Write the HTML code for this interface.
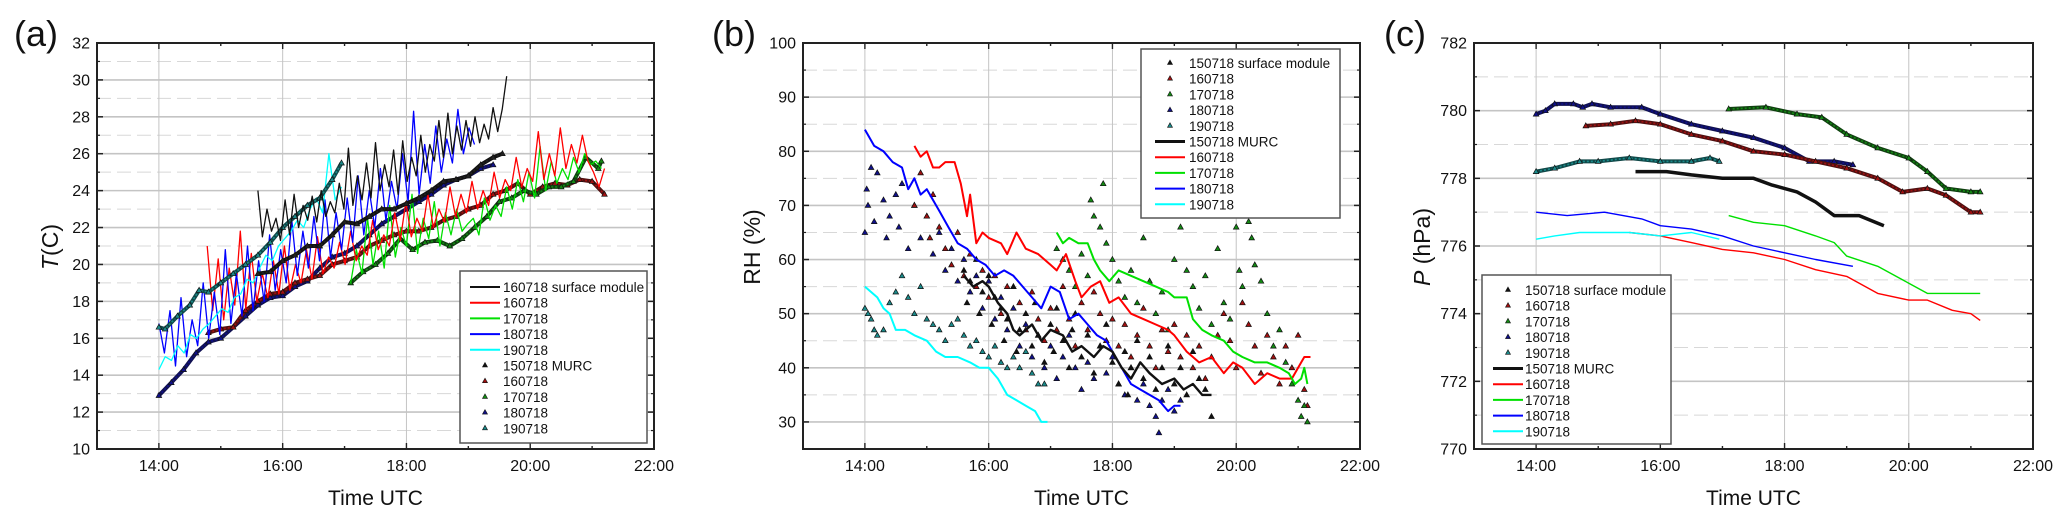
<!DOCTYPE html>
<html><head><meta charset="utf-8"><style>
html,body{margin:0;padding:0;background:#fff;}
svg{display:block;font-family:"Liberation Sans",Arial,sans-serif;}
</style></head><body>
<svg id="fig" width="2067" height="525" viewBox="0 0 2067 525" xmlns="http://www.w3.org/2000/svg"></svg>
<script>
// ---------- Panel (a) temperature data ----------
const aSurfBlackVals=[24,21.5,23,21.8,22.5,21.3,23.5,21.6,23.8,22,23.2,22.4,23.7,22.3,24,22.6,23.4,22.8,24.4,23,26.3,23.2,24.8,23.5,25.5,23.6,26.6,24,25.4,24.2,26.2,23.8,26.7,24.5,25.8,24.8,27,25,26.5,25.6,27.8,25.8,28.2,26,27.5,26.2,27.8,26.4,28,26.6,27.6,26.8,28.5,27.2,28.4,30.2];
const aRedVals=[21,17.5,20.3,17,19.8,17.8,21.8,17.6,20.6,18,19.5,18.2,20.2,18.4,21,18.6,20,19,20.8,19.2,21.5,19.5,20.4,19.8,21.2,20,21.8,20.2,21,20.5,22.4,20.8,21.6,21,22.8,21.3,23.4,21.5,22.5,21.8,23.8,22,23,22.3,24.2,22.6,23.8,22.8,24.5,23,24,23.2,25,23.6,24.6,24,25.8,24.2,25.2,24.5,27.2,24.6,26,24.8,27.4,25.2,26.5,25.5,27,25.6,25,24.2,25.2];
const aGreenVals=[19,20.8,19.5,22.5,20,21.8,19.8,23.2,20.4,22,21,23.8,20.6,22.5,21.4,23.4,21,22.8,21.6,23,21.8,22.2,22.5,21.6,23.6,22.4,23.2,22.6,24.2,23,24.6,23.4,25,23.6,26.4,24,25.6,24.4,25.2,24.6,25.8,25,26,25.4,25.6,25.2];
const aBlueVals=[16.8,15.2,17.5,14.5,18.2,15,17,15.6,19,16,18.5,16.2,20.8,16.8,19.5,17.2,21,17.5,20.2,18,21.6,18.6,20.8,19,22.4,19.4,21.8,19.8,22.6,20.2,23.5,20.4,22.8,20.8,23.6,21.2,24.8,21.6,24,22,25.2,22.4,24.5,23,26,23.4,28.3,23.8,26.5,24.4,27.5,25,26.8,25.5,28.4,26,27.4,26.5];
const aCyanVals=[14.3,15,14.8,15.6,15.2,16.2,16,16.5,16.8,17.2,17.6,17.4,18.2,18.4,19.2,19,19.8,20.5,20.2,21,21.4,21.8,22.4,22,23,23.6,22.8,26,23.5,24.2];
const aMurcBlack=[[15.6,19.5],[15.8,19.6],[16,20.2],[16.2,20.5],[16.4,21],[16.6,21],[16.8,21.6],[17,22.3],[17.2,22.2],[17.4,22.6],[17.6,23],[17.8,23],[18,23.3],[18.2,23.6],[18.4,24],[18.6,24.5],[18.8,24.6],[19,24.8],[19.2,25.4],[19.4,25.8],[19.55,26]];
const aMkRed=[[14.8,16.3],[15,16.5],[15.2,16.6],[15.4,17.5],[15.6,18],[15.8,18.4],[16,18.5],[16.2,19],[16.4,19.2],[16.6,19.4],[16.8,20],[17,20.2],[17.2,20.4],[17.4,21],[17.6,21.3],[17.8,21.6],[18,21.8],[18.2,21.8],[18.4,22],[18.6,22.4],[18.8,22.6],[19,23],[19.2,23.2],[19.4,23.8],[19.6,24],[19.8,24.4],[20,23.8],[20.2,24.2],[20.4,24.4],[20.6,24.3],[20.8,24.6],[21,24.5],[21.2,23.8]];
const aMkGreen=[[17.1,19],[17.3,19.6],[17.5,20],[17.7,20.6],[17.9,21.4],[18.1,20.8],[18.3,21.2],[18.5,21.3],[18.7,21],[18.9,21.4],[19.1,22],[19.3,22.6],[19.5,23.4],[19.7,23.6],[19.9,24],[20.1,23.8],[20.3,24.2],[20.5,24.2],[20.7,24.5],[20.9,25.8],[21.1,25.2],[21.15,25.6]];
const aMkNavy=[[14,12.9],[14.2,13.6],[14.4,14.3],[14.6,15.2],[14.8,15.8],[15,16],[15.2,16.6],[15.4,17.2],[15.6,17.8],[15.8,18.2],[16,18.3],[16.2,18.8],[16.4,19.1],[16.6,19.8],[16.8,20.4],[17,20.6],[17.2,21],[17.4,21.6],[17.6,22.2],[17.8,22.6],[18,23],[18.2,23.4],[18.4,23.8],[18.6,24.3],[18.8,24.6],[19,24.8],[19.2,25.2],[19.4,25.4]];
const aMkTeal=[[14,16.6],[14.1,16.5],[14.3,17.2],[14.5,17.8],[14.65,18.6],[14.8,18.5],[15,19],[15.2,19.5],[15.4,20],[15.6,20.5],[15.8,21.2],[16,22],[16.2,22.6],[16.4,23.2],[16.6,23.6],[16.8,24.6],[16.95,25.5]];

// ---------- Panel (b) RH data ----------
const bMurcBlack=[[15.6,57],[15.75,55],[15.9,56],[16,55],[16.15,52],[16.3,50],[16.4,47],[16.5,46],[16.7,48],[16.85,45],[17,47],[17.2,46],[17.35,43],[17.5,44],[17.7,42],[17.85,44],[18,43],[18.15,40],[18.3,38],[18.45,41],[18.6,39],[18.8,37],[19,38],[19.15,36],[19.3,37],[19.45,35],[19.6,35]];
const bRed=[[14.8,81],[14.9,79],[15,80],[15.1,77],[15.2,77],[15.3,78],[15.45,78],[15.55,74],[15.65,68],[15.7,72],[15.8,63],[15.9,65],[16,64],[16.2,63],[16.3,61],[16.45,65],[16.6,62],[16.8,61],[17,59],[17.1,58],[17.25,61],[17.4,56],[17.5,53],[17.65,55],[17.8,56],[17.95,52],[18.1,53],[18.3,50],[18.5,49],[18.7,48],[18.9,47],[19,46],[19.2,43],[19.4,41],[19.6,42],[19.8,39],[19.95,41],[20.1,40],[20.3,37],[20.5,39],[20.7,38],[20.9,38],[21,40],[21.1,42],[21.2,42]];
const bGreen=[[17.1,65],[17.2,63],[17.3,64],[17.45,63],[17.6,63],[17.7,60],[17.8,58],[17.95,56],[18.1,58],[18.3,57],[18.5,56],[18.7,55],[18.9,54],[19,53],[19.2,53],[19.3,49],[19.45,47],[19.6,46],[19.8,45],[19.95,43],[20.1,42],[20.3,41],[20.5,41],[20.7,40],[20.85,39],[20.95,37],[21.05,38],[21.1,40],[21.15,37]];
const bBlue=[[14,84],[14.05,83],[14.15,81],[14.3,80],[14.45,78],[14.6,77],[14.7,73],[14.8,75],[14.9,72],[15,73],[15.1,71],[15.2,69],[15.35,66],[15.5,63],[15.65,62],[15.8,60],[15.95,59],[16.1,57],[16.25,58],[16.4,57],[16.55,55],[16.7,53],[16.85,51],[17,55],[17.15,54],[17.3,49],[17.45,50],[17.6,48],[17.75,46],[17.9,45],[18,43],[18.15,40],[18.3,37],[18.45,36],[18.6,35],[18.75,34],[18.9,32],[19,33],[19.1,33]];
const bCyan=[[14,55],[14.1,54],[14.2,53],[14.3,51],[14.4,50],[14.5,47],[14.65,47],[14.8,46],[15,45],[15.15,43],[15.3,42],[15.5,42],[15.7,41],[15.85,40],[16,40],[16.15,38],[16.3,35],[16.45,34],[16.6,33],[16.75,32],[16.85,30],[16.95,30]];
const bMkBlack=[[15.6,58],[15.65,52],[15.7,56],[15.8,60],[15.85,50],[15.9,54],[16,57],[16.05,48],[16.1,53],[16.2,51],[16.25,45],[16.3,49],[16.4,55],[16.45,43],[16.5,47],[16.6,50],[16.7,44],[16.75,52],[16.8,46],[16.9,41],[17,48],[17.05,43],[17.1,51],[17.2,45],[17.3,40],[17.35,47],[17.4,50],[17.5,42],[17.6,46],[17.7,39],[17.8,44],[17.9,48],[18,41],[18.1,37],[18.2,43],[18.25,35],[18.3,40],[18.4,45],[18.5,38],[18.6,42],[18.7,36],[18.8,40],[18.9,44],[19,37],[19.1,40],[19.2,35],[19.3,43],[19.4,38],[19.5,36],[19.6,31]];
const bMkRed=[[14.8,70],[14.9,76],[15,68],[15.05,64],[15.1,72],[15.2,66],[15.3,62],[15.4,59],[15.5,65],[15.6,57],[15.7,61],[15.8,55],[15.9,58],[16,53],[16.1,57],[16.2,50],[16.3,55],[16.5,52],[16.6,47],[16.7,54],[16.8,49],[16.9,45],[17,51],[17.1,47],[17.2,55],[17.3,49],[17.4,44],[17.5,52],[17.6,47],[17.7,54],[17.8,50],[17.9,45],[18,49],[18.1,44],[18.2,48],[18.3,42],[18.4,46],[18.5,51],[18.6,44],[18.7,40],[18.8,47],[18.9,43],[19,48],[19.1,42],[19.2,46],[19.3,40],[19.4,44],[19.5,38],[19.6,42],[19.7,46],[19.8,50],[19.9,45],[20,40],[20.1,52],[20.2,48],[20.3,44],[20.4,39],[20.5,46],[20.6,42],[20.7,37],[20.8,44],[20.9,40],[21,46],[21.1,36],[21.15,33]];
const bMkGreen=[[17.1,62],[17.2,60],[17.3,58],[17.4,55],[17.5,61],[17.6,57],[17.65,71],[17.7,68],[17.8,66],[17.85,74],[17.9,63],[18,60],[18.1,56],[18.2,53],[18.3,58],[18.4,52],[18.5,64],[18.6,56],[18.7,50],[18.8,54],[18.9,47],[19,60],[19.1,66],[19.2,58],[19.3,55],[19.4,51],[19.5,57],[19.6,48],[19.7,62],[19.8,52],[19.9,49],[20,66],[20.05,58],[20.1,55],[20.2,67],[20.25,64],[20.3,59],[20.4,56],[20.5,50],[20.6,44],[20.7,47],[20.8,41],[20.9,37],[21,34],[21.05,31],[21.1,33],[21.15,30]];
const bMkNavy=[[14,65],[14.03,73],[14.05,70],[14.1,77],[14.15,67],[14.2,76],[14.3,71],[14.35,64],[14.4,68],[14.5,72],[14.55,66],[14.6,74],[14.7,62],[14.8,70],[14.9,64],[15,68],[15.1,61],[15.2,65],[15.3,58],[15.4,62],[15.5,56],[15.6,60],[15.7,54],[15.8,57],[15.9,51],[16,56],[16.1,49],[16.2,53],[16.3,47],[16.4,51],[16.5,44],[16.6,48],[16.7,42],[16.8,46],[16.9,40],[17,44],[17.1,38],[17.2,42],[17.3,46],[17.4,40],[17.5,36],[17.6,41],[17.7,38],[17.8,44],[17.9,39],[18,42],[18.1,37],[18.2,35],[18.3,40],[18.4,34],[18.5,37],[18.6,33],[18.7,31],[18.75,28],[18.8,34],[18.9,36],[19,32],[19.1,34]];
const bMkTeal=[[14,51],[14.05,50],[14.1,49],[14.15,47],[14.2,46],[14.3,47],[14.4,52],[14.5,54],[14.6,57],[14.7,53],[14.8,50],[14.9,55],[15,49],[15.1,48],[15.2,47],[15.3,45],[15.4,48],[15.5,49],[15.6,46],[15.7,44],[15.8,45],[15.9,43],[16,42],[16.1,44],[16.2,41],[16.3,40],[16.4,42],[16.5,40],[16.6,43],[16.7,39],[16.8,37],[16.9,37]];

// ---------- Panel (c) pressure data ----------
const cMkNavy=[[14,779.9],[14.15,780],[14.3,780.2],[14.6,780.2],[14.75,780.1],[14.9,780.2],[15.2,780.1],[15.7,780.1],[16,779.9],[16.5,779.6],[17,779.4],[17.5,779.2],[18,778.9],[18.4,778.5],[18.8,778.5],[19.1,778.4]];
const cMkRed=[[14.8,779.55],[15.2,779.6],[15.6,779.7],[16,779.6],[16.5,779.3],[17,779.1],[17.5,778.8],[18,778.7],[18.5,778.5],[19,778.3],[19.5,778],[19.9,777.6],[20.3,777.7],[20.6,777.5],[21,777],[21.15,777]];
const cMkGreen=[[17.1,780.05],[17.7,780.1],[18.2,779.9],[18.6,779.8],[19,779.3],[19.5,778.9],[20,778.6],[20.3,778.2],[20.6,777.7],[21,777.6],[21.15,777.6]];
const cMkTeal=[[14,778.2],[14.3,778.3],[14.7,778.5],[15,778.5],[15.5,778.6],[16,778.5],[16.5,778.5],[16.8,778.6],[16.95,778.5]];
const cMurcBlack=[[15.6,778.2],[16.1,778.2],[16.5,778.1],[17,778],[17.5,778],[17.8,777.8],[18.2,777.6],[18.5,777.3],[18.8,776.9],[19.2,776.9],[19.6,776.6]];
const cRed=[[15.5,776.4],[16,776.3],[16.5,776.1],[17,775.9],[17.5,775.8],[18,775.6],[18.5,775.3],[19,775.1],[19.5,774.6],[20,774.4],[20.3,774.4],[20.7,774.1],[21,774],[21.15,773.8]];
const cGreen=[[17.1,776.9],[17.5,776.7],[18,776.6],[18.5,776.3],[18.8,776.1],[19,775.7],[19.5,775.4],[20,774.9],[20.3,774.6],[20.6,774.6],[21.15,774.6]];
const cBlue=[[14,777],[14.5,776.9],[15.1,777],[15.7,776.8],[16,776.6],[16.5,776.5],[17,776.3],[17.5,776],[18,775.8],[18.5,775.6],[19.1,775.4]];
const cCyan=[[14,776.2],[14.3,776.3],[14.7,776.4],[15.5,776.4],[16,776.3],[16.5,776.4],[16.95,776.2]];

const xTickLabels=["14:00","16:00","18:00","20:00","22:00"];
const xTickHours=[14,16,18,20,22];

const NS="http://www.w3.org/2000/svg";
const svg=document.getElementById('fig');
function el(tag,attrs,parent){const e=document.createElementNS(NS,tag);for(const k in attrs)e.setAttribute(k,attrs[k]);(parent||svg).appendChild(e);return e;}
function evenSeries(t0,t1,vals){const n=vals.length;return vals.map((v,i)=>[t0+(t1-t0)*i/(n-1),v]);}
const chainColor={'#10108a':'#101050','#a01010':'#501010','#138a13':'#104010','#1a8a8a':'#104848','#222':'#111'};

function makePanel(p){
  const g=el('g',{});
  
  
  const X=t=>p.x0+(t-13)/(22-13)*(p.x1-p.x0);
  const Y=v=>p.y1-(v-p.ymin)/(p.ymax-p.ymin)*(p.y1-p.y0);
  for(const v of p.minor){const ln=el('line',{x1:p.x0,x2:p.x1,y1:Y(v),y2:Y(v),stroke:'#d8d8d8','stroke-width':1,'stroke-dasharray':'14,6'},g);}
  for(const v of p.major){const ln=el('line',{x1:p.x0,x2:p.x1,y1:Y(v),y2:Y(v),stroke:'#c4c4c4','stroke-width':1.6},g);}
  for(const h of [14,16,18,20]){const ln=el('line',{x1:X(h),x2:X(h),y1:p.y0,y2:p.y1,stroke:'#c4c4c4','stroke-width':1},g);}
  for(const v of p.major){el('line',{x1:p.x0,x2:p.x0+6,y1:Y(v),y2:Y(v),stroke:'#222','stroke-width':1.5},g);el('line',{x1:p.x1-6,x2:p.x1,y1:Y(v),y2:Y(v),stroke:'#222','stroke-width':1.5},g);}
  for(const v of p.minor){el('line',{x1:p.x0,x2:p.x0+3,y1:Y(v),y2:Y(v),stroke:'#222','stroke-width':1.2},g);el('line',{x1:p.x1-3,x2:p.x1,y1:Y(v),y2:Y(v),stroke:'#222','stroke-width':1.2},g);}
  for(let h=14;h<=21;h++){const L=h%2===0?6:3;el('line',{x1:X(h),x2:X(h),y1:p.y1,y2:p.y1-L,stroke:'#222','stroke-width':1.4},g);el('line',{x1:X(h),x2:X(h),y1:p.y0,y2:p.y0+L,stroke:'#222','stroke-width':1.4},g);}
  const drawLine=(pts,color,w,name)=>{const pl=el('polyline',{points:pts.map(q=>X(q[0]).toFixed(1)+','+Y(q[1]).toFixed(1)).join(' '),fill:'none',stroke:color,'stroke-width':w,'stroke-linejoin':'round'},g);};
  const drawMarkers=(pts,fill,chain,name)=>{
    const mg=el('g',{},g);
    if(chain){const pl=el('polyline',{points:pts.map(q=>X(q[0]).toFixed(1)+','+Y(q[1]).toFixed(1)).join(' '),fill:'none',stroke:chainColor[fill]||'#222','stroke-width':4,'stroke-linejoin':'round'},mg);
      const pl2=el('polyline',{points:pts.map(q=>X(q[0]).toFixed(1)+','+Y(q[1]).toFixed(1)).join(' '),fill:'none',stroke:fill,'stroke-width':1.6,'stroke-dasharray':'2,2'},mg);}
    for(const q of pts){const x=X(q[0]),y=Y(q[1]);const t=el('path',{d:`M${x.toFixed(1)},${(y-3).toFixed(1)}L${(x+2.8).toFixed(1)},${(y+2).toFixed(1)}L${(x-2.8).toFixed(1)},${(y+2).toFixed(1)}Z`,fill:fill,stroke:'#111','stroke-width':0.7},mg);}
  };
  p.draw(drawLine,drawMarkers);
  const fr=el('rect',{x:p.x0,y:p.y0,width:p.x1-p.x0,height:p.y1-p.y0,fill:'none',stroke:'#222','stroke-width':2},g);
  p.major.forEach(v=>{const t=el('text',{x:p.x0-7,y:Y(v)+5.5,'text-anchor':'end','font-size':16,fill:'#111'},g);t.textContent=String(v);});
  xTickHours.forEach((h,i)=>{const t=el('text',{x:X(h),y:p.y1+22,'text-anchor':'middle','font-size':16,fill:'#111'},g);t.textContent=xTickLabels[i];});
  const xt=el('text',{x:(p.x0+p.x1)/2,y:505,'text-anchor':'middle','font-size':21,fill:'#111'},g);xt.textContent='Time UTC';
  const yt=el('text',{x:p.ytx,y:247,'text-anchor':'middle','font-size':23,fill:'#111',transform:`rotate(-90 ${p.ytx} 247)`},g);yt.innerHTML=p.ytitle;
  const pl=el('text',{x:p.plx,y:46,'font-size':36,fill:'#111'},g);pl.textContent=p.plabel;
  const L=p.legend;const lg=el('g',{},g);
  el('rect',{x:L.x,y:L.y,width:L.w,height:L.h,fill:'#fff',stroke:'#555','stroke-width':1.5},lg);
  L.items.forEach((it,i)=>{const y=L.ry+i*15.7;const eg=el('g',{},lg);
    if(it.type==='line'){el('line',{x1:L.lx,x2:L.lx+30,y1:y,y2:y,stroke:it.c,'stroke-width':it.w||2},eg);}
    else{el('path',{d:`M${L.lx+15},${y-3}L${L.lx+17.5},${y+1.5}L${L.lx+12.5},${y+1.5}Z`,fill:it.c,stroke:'#111','stroke-width':0.6},eg);}
    const t=el('text',{x:L.tx,y:y+5,'font-size':13.5,fill:'#111'},eg);t.textContent=it.t;});
}

const mkItems=first=>[{type:'m',c:'#111',t:first},{type:'m',c:'#a01010',t:'160718'},{type:'m',c:'#138a13',t:'170718'},{type:'m',c:'#10108a',t:'180718'},{type:'m',c:'#1a8a8a',t:'190718'}];
const lnItems=(first,w)=>[{type:'line',c:'#111',t:first,w:w},{type:'line',c:'#ff0000',t:'160718'},{type:'line',c:'#00e000',t:'170718'},{type:'line',c:'#0000ff',t:'180718'},{type:'line',c:'#00ffff',t:'190718'}];

makePanel({name:'panel-a-temperature',x0:97,x1:654,y0:43,y1:449,ymin:10,ymax:32,
  major:[10,12,14,16,18,20,22,24,26,28,30,32],minor:[11,13,15,17,19,21,23,25,27,29,31],
  ytx:58,ytitle:'<tspan font-style="italic">T</tspan>(C)',plx:14,plabel:'(a)',
  legend:{x:460,y:271,w:187,h:172,ry:287,lx:470,tx:503,items:lnItems('160718 surface module',2).concat(mkItems('150718 MURC'))},
  draw:(line,mk)=>{
    mk(aMkNavy,'#10108a',true,'series-180718-markers');
    mk(aMkRed,'#a01010',true,'series-160718-markers');
    mk(aMkGreen,'#138a13',true,'series-170718-markers');
    line(evenSeries(17.1,21.15,aGreenVals),'#00e000',1.3,'series-170718-line');
    line(evenSeries(14.78,21.2,aRedVals),'#ff0000',1.3,'series-160718-line');
    line(evenSeries(14,19.1,aBlueVals),'#0000ff',1.3,'series-180718-line');
    line(evenSeries(14,16.95,aCyanVals),'#00ffff',1.3,'series-190718-line');
    mk(aMkTeal,'#1a8a8a',true,'series-190718-markers');
    mk(aMurcBlack,'#222',true,'series-150718-murc-markers');
    line(evenSeries(15.6,19.62,aSurfBlackVals),'#111',1.3,'series-surface-module-line');
  }});

makePanel({name:'panel-b-humidity',x0:803,x1:1360,y0:43,y1:449,ymin:25,ymax:100,
  major:[30,40,50,60,70,80,90,100],minor:[35,45,55,65,75,85,95],
  ytx:760,ytitle:'RH (%)',plx:712,plabel:'(b)',
  legend:{x:1141,y:49,w:199,h:169,ry:63,lx:1155,tx:1189,items:mkItems('150718 surface module').concat(lnItems('150718 MURC',3))},
  draw:(line,mk)=>{
    mk(bMkTeal,'#1a8a8a',false,'series-190718-markers');
    mk(bMkNavy,'#10108a',false,'series-180718-markers');
    mk(bMkRed,'#a01010',false,'series-160718-markers');
    mk(bMkBlack,'#111',false,'series-surface-module-markers');
    mk(bMkGreen,'#138a13',false,'series-170718-markers');
    line(bCyan,'#00ffff',2,'series-190718-line');
    line(bBlue,'#0000ff',2,'series-180718-line');
    line(bRed,'#ff0000',2,'series-160718-line');
    line(bGreen,'#00e000',2,'series-170718-line');
    line(bMurcBlack,'#111',2.4,'series-150718-murc-line');
  }});

makePanel({name:'panel-c-pressure',x0:1474,x1:2033,y0:43,y1:449,ymin:770,ymax:782,
  major:[770,772,774,776,778,780,782],minor:[771,773,775,777,779,781],
  ytx:1430,ytitle:'<tspan font-style="italic">P</tspan> (hPa)',plx:1384,plabel:'(c)',
  legend:{x:1482,y:275,w:189,h:169,ry:290,lx:1493,tx:1525,items:mkItems('150718 surface module').concat(lnItems('150718 MURC',3))},
  draw:(line,mk)=>{
    mk(cMkNavy,'#10108a',true,'series-180718-markers');
    mk(cMkRed,'#a01010',true,'series-160718-markers');
    mk(cMkGreen,'#138a13',true,'series-170718-markers');
    mk(cMkTeal,'#1a8a8a',true,'series-190718-markers');
    line(cMurcBlack,'#111',3.5,'series-150718-murc-line');
    line(cRed,'#ff0000',1.4,'series-160718-line');
    line(cGreen,'#00e000',1.4,'series-170718-line');
    line(cBlue,'#0000ff',1.4,'series-180718-line');
    line(cCyan,'#00ffff',1.4,'series-190718-line');
  }});
</script>
</body></html>
